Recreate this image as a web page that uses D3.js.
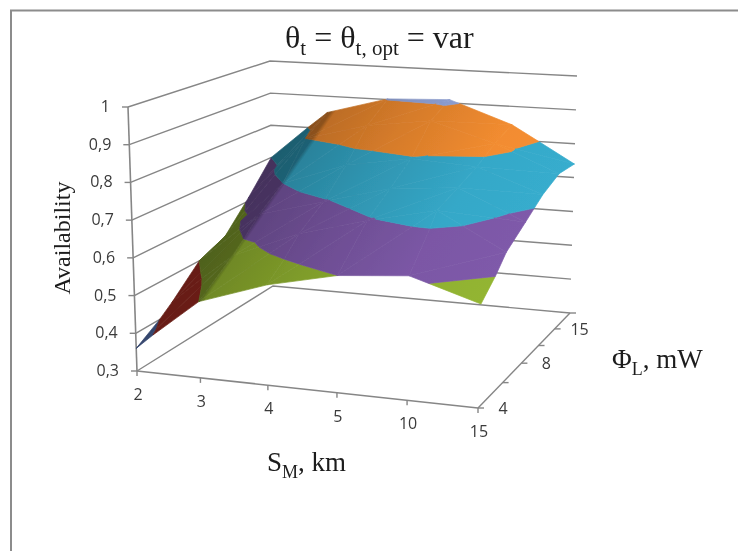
<!DOCTYPE html>
<html>
<head>
<meta charset="utf-8">
<style>
  html, body { margin: 0; padding: 0; background: #fff; overflow: hidden; }
  .tick { font-family: "Open Sans", sans-serif; font-size: 16px; fill: #3a3a3a; }
  .ttl { font-family: "Liberation Serif", serif; font-size: 24px; fill: #1c1c1c; }
</style>
</head>
<body>
<script src="https://cdn.jsdelivr.net/npm/d3@7"></script>
<script>
var sLabels = ['2', '3', '4', '5', '10', '15'];
var phiLabels = ['4', '', '8', '', '15', ''];
var valueTicks = [0.3, 0.4, 0.5, 0.6, 0.7, 0.8, 0.9, 1];

// availability per S_M value, one array for each row of the depth axis
var phiRow0 = [0.36, 0.50, 0.56, 0.60, 0.615, 0.56];
var phiRow1 = [0.427, 0.57, 0.645, 0.695, 0.735, 0.64];
var phiRow2 = [0.50, 0.645, 0.695, 0.745, 0.76, 0.68];
var phiRow3 = [0.53, 0.70, 0.765, 0.795, 0.785, 0.72];
var phiRow4 = [0.61, 0.80, 0.85, 0.875, 0.82, 0.745];
var phiRow5 = [0.70, 0.85, 0.902, 0.91, 0.845, 0.74];
var rows = [phiRow0, phiRow1, phiRow2, phiRow3, phiRow4, phiRow5];

var bandColors = ['#5a7cc4', '#b93424', '#8fb030', '#7b57a5', '#35a8c8', '#f28c30', '#97a9e0'];

// light across the surface, offset along the gradient and brightness
var shadeOffsets = [0, 0.095, 0.11, 0.35, 0.7, 1];
var shadeLevels = [0.55, 0.58, 0.78, 0.88, 1.0, 1.03];

var w = 738;
var h = 551;

// box corners on screen, [bottom, top] for each vertical edge
var frontLeft = [[137, 371], [128, 107]];
var frontRight = [[478, 408], [486, 128]];
var backLeft = [[273, 286], [270, 61]];
var backRight = [[570, 313], [577, 76]];

var sScale = d3.scalePow().exponent(1.045).domain([0, 5]).range([0, 1]);
var phiScale = d3.scalePow().exponent(0.82).domain([0, 5]).range([0, 1]);
var valueScale = d3.scaleLinear().domain([0.3, 1]).range([0, 1]);

var mix = (a, b, t) => [a[0] + (b[0] - a[0]) * t, a[1] + (b[1] - a[1]) * t];

var project = (s, phi, value) => {
  var u = sScale(s);
  var v = phiScale(phi);
  var t = valueScale(value);
  var bottom = mix(mix(frontLeft[0], frontRight[0], u), mix(backLeft[0], backRight[0], u), v);
  var top = mix(mix(frontLeft[1], frontRight[1], u), mix(backLeft[1], backRight[1], u), v);
  return mix(bottom, top, t);
};

var svg = d3.select('body').append('svg').attr('width', w).attr('height', h);

var defs = svg.append('defs');
defs.append('filter').attr('id', 'soft').append('feGaussianBlur').attr('stdDeviation', 0.6);
defs.append('filter').attr('id', 'softText').append('feGaussianBlur').attr('stdDeviation', 0.3);

var shade = (color, k) => {
  var c = d3.rgb(color);
  return d3.rgb(c.r * k, c.g * k, c.b * k).formatHex();
};

// one gradient per band, running across the S_M direction of the surface
bandColors.forEach((color, b) => {
  var gradient = defs.append('linearGradient')
    .attr('id', 'band' + b)
    .attr('gradientUnits', 'userSpaceOnUse')
    .attr('x1', 179).attr('y1', 288)
    .attr('x2', 390).attr('y2', 434);
  shadeOffsets.forEach((offset, i) => {
    gradient.append('stop')
      .attr('offset', offset)
      .attr('stop-color', shade(color, shadeLevels[i]));
  });
});

// outer frame, only left and top show
svg.append('path')
  .attr('d', 'M11,551V10.5H738')
  .attr('fill', 'none')
  .attr('stroke', '#8c8c8c')
  .attr('stroke-width', 2);

var line = d3.line();
var walls = svg.append('g').attr('fill', 'none').attr('stroke', '#868686').attr('stroke-width', 1.4);

// wall gridlines
walls.selectAll('.grid')
  .data(valueTicks)
  .enter()
  .append('path')
  .attr('class', 'grid')
  .attr('d', d => line([project(0, 0, d), project(0, 5, d), project(5, 5, d)]));

// floor edges
walls.append('path').attr('d', line([project(5, 5, 0.3), project(5, 0, 0.3)]));
walls.append('path').attr('d', line([project(0, 0, 0.3), project(5, 0, 0.3)])).attr('stroke-width', 1.6);
walls.append('path').attr('d', line([project(0, 0, 0.3), project(0, 0, 1)])).attr('stroke-width', 1.6);

// axis ticks
walls.selectAll('.vtick')
  .data(valueTicks)
  .enter()
  .append('path')
  .attr('class', 'vtick')
  .attr('d', d => {
    var p = project(0, 0, d);
    return line([[p[0] - 6, p[1]], [p[0], p[1]]]);
  });

walls.selectAll('.stick')
  .data(sLabels)
  .enter()
  .append('path')
  .attr('class', 'stick')
  .attr('d', (d, i) => {
    var p = project(i, 0, 0.3);
    return line([p, [p[0], p[1] + 5]]);
  });

walls.selectAll('.ptick')
  .data(phiLabels)
  .enter()
  .append('path')
  .attr('class', 'ptick')
  .attr('d', (d, i) => {
    var p = project(5, i, 0.3);
    return line([p, [p[0] + 6, p[1]]]);
  });

// keep the part of a triangle that lies on one side of a value
var clipAbove = (poly, level, sign) => {
  var out = [];
  poly.forEach((p, i) => {
    var q = poly[(i + 1) % poly.length];
    var pIn = sign * (p[2] - level) >= 0;
    var qIn = sign * (q[2] - level) >= 0;
    if (pIn) { out.push(p); }
    if (pIn !== qIn) {
      var t = (level - p[2]) / (q[2] - p[2]);
      out.push([p[0] + (q[0] - p[0]) * t, p[1] + (q[1] - p[1]) * t, level]);
    }
  });
  return out;
};

var facets = [];
var pushTriangle = (tri) => {
  bandColors.forEach((color, b) => {
    var poly = clipAbove(clipAbove(tri, valueTicks[b], 1), valueTicks[b + 1], -1);
    if (poly.length > 2) {
      facets.push({ poly: poly, fill: 'url(#band' + b + ')' });
    }
  });
};

// far cells first: low S column, then high phi row
d3.range(0, 5).forEach(c => {
  d3.range(4, -1, -1).forEach(r => {
    var a = [c, r, rows[r][c]];
    var b = [c + 1, r, rows[r][c + 1]];
    var e = [c + 1, r + 1, rows[r + 1][c + 1]];
    var f = [c, r + 1, rows[r + 1][c]];
    pushTriangle([a, e, f]);
    pushTriangle([a, b, e]);
  });
});

svg.append('g')
  .attr('filter', 'url(#soft)')
  .selectAll('path')
  .data(facets)
  .enter()
  .append('path')
  .attr('d', d => line(d.poly.map(p => project(p[0], p[1], p[2]))) + 'Z')
  .attr('fill', d => d.fill)
  .attr('stroke', d => d.fill)
  .attr('stroke-width', 0.7)
  .attr('stroke-linejoin', 'round');

var labels = svg.append('g').attr('filter', 'url(#softText)');
var commaFormat = d => String(d).replace('.', ',');

labels.selectAll('.vlabel')
  .data(valueTicks)
  .enter()
  .append('text')
  .attr('class', 'tick')
  .attr('text-anchor', 'end')
  .attr('x', d => project(0, 0, d)[0] - 18)
  .attr('y', d => project(0, 0, d)[1] + 5)
  .text(commaFormat);

labels.selectAll('.slabel')
  .data(sLabels)
  .enter()
  .append('text')
  .attr('class', 'tick')
  .attr('text-anchor', 'middle')
  .attr('x', (d, i) => project(i, 0, 0.3)[0] + 1)
  .attr('y', (d, i) => project(i, 0, 0.3)[1] + 29)
  .text(d => d);

labels.selectAll('.plabel')
  .data(phiLabels)
  .enter()
  .append('text')
  .attr('class', 'tick')
  .attr('text-anchor', 'middle')
  .attr('x', (d, i) => project(5, i, 0.3)[0] + 25)
  .attr('y', (d, i) => project(5, i, 0.3)[1] + 6)
  .text(d => d);

var addTitle = (x, y, parts, size, subSize) => {
  var text = labels.append('text').attr('class', 'ttl').attr('x', x).attr('y', y).style('font-size', size + 'px');
  parts.forEach(part => {
    var span = text.append('tspan').text(part[0]);
    if (part[1] === 'sub') {
      span.attr('dy', 7).style('font-size', subSize + 'px');
    } else if (part[1] === 'up') {
      span.attr('dy', -7);
    }
  });
  return text;
};

addTitle(285, 48, [['θ'], ['t', 'sub'], [' = θ', 'up'], ['t, opt', 'sub'], [' = var', 'up']], 32, 21);
addTitle(267, 471, [['S'], ['M', 'sub'], [', km', 'up']], 27, 18);
addTitle(612, 368, [['Φ'], ['L', 'sub'], [', mW', 'up']], 27, 18);

labels.append('text')
  .attr('class', 'ttl')
  .attr('text-anchor', 'middle')
  .attr('transform', 'translate(70,238) rotate(-90)')
  .text('Availability');
</script>
</body>
</html>
